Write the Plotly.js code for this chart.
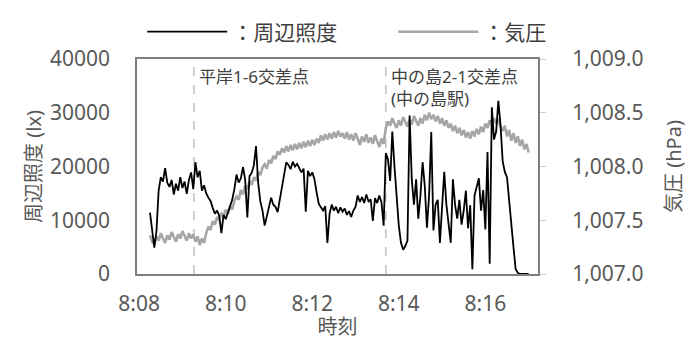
<!DOCTYPE html>
<html><head><meta charset="utf-8">
<script src="https://cdn.plot.ly/plotly-3.0.1.min.js"></script>
<style>html,body{margin:0;padding:0;background:#fff}</style>
</head><body><div id="chart" style="width:690px;height:340px"></div>
<script>
// time axis: seconds after 8:08:00, sampled every 3 s starting at 8:08:15
const startSec = 15;
const stepSec = 3;
const seriesNames = ["：周辺照度", "：気圧"];
const illuminance = [
  11400, 7600, 4900, 8000, 15500, 18000, 17200, 19700, 17000, 16200,
  17500, 14800, 16800, 15500, 18000, 16000, 17200, 14900, 17500, 18900,
  15800, 20800, 18000, 19200, 15500, 16500, 15000, 14200, 13600, 12300,
  11200, 11800, 10800, 7600, 11000, 10200, 11500, 12400, 13800, 15800,
  18500, 17000, 17800, 19900, 17500, 10500, 18200, 18800, 20200, 23800,
  17000, 13500, 11800, 9000, 10700, 13000, 14200, 12900, 12500, 11500,
  13800, 16200, 19200, 20800, 20300, 19500, 20900, 20000, 20500, 19800,
  18900, 19600, 11600, 19200, 18200, 18900, 17700, 15200, 13100, 12400,
  11800, 12600, 5800, 11200, 12900, 11800, 12500, 11300, 12400, 11600,
  12200, 11000, 11700, 10600, 11800, 12500, 14600, 13400, 14300, 13200,
  14800, 13500, 13900, 9900, 14100, 13200, 14600, 13300, 9000, 22500,
  21300, 17300, 26500, 20000, 13500, 9000, 5800, 4500, 5200, 6200,
  29500, 17500, 12900, 17600, 10300, 14600, 20800, 16400, 8600, 14600,
  26400, 8100, 12900, 13800, 5800, 12800, 19000, 12900, 9700, 5800,
  17600, 12900, 10300, 13800, 9200, 11800, 15500, 8500, 12800, 900,
  14600, 16200, 17800, 11800, 15600, 8300, 22700, 1900, 31000, 25000,
  26500, 32200, 27800, 21000, 19000, 18000, 13200, 9500, 5000, 900,
  200, 0, 0, 0, 0, 0
];
const pressure = [
  1007.36, 1007.30, 1007.28, 1007.35, 1007.31, 1007.38, 1007.33, 1007.29, 1007.36, 1007.32,
  1007.39, 1007.34, 1007.30, 1007.37, 1007.33, 1007.40, 1007.35, 1007.31, 1007.38, 1007.33,
  1007.37, 1007.30, 1007.35, 1007.27, 1007.33, 1007.29, 1007.38, 1007.44, 1007.41, 1007.49,
  1007.46, 1007.53, 1007.50, 1007.57, 1007.53, 1007.60, 1007.56, 1007.63, 1007.60, 1007.68,
  1007.72, 1007.69, 1007.78, 1007.74, 1007.82, 1007.79, 1007.86, 1007.83, 1007.90, 1007.87,
  1007.95, 1007.92, 1007.99, 1008.02, 1007.98, 1008.06, 1008.03, 1008.10, 1008.07, 1008.14,
  1008.11, 1008.17, 1008.13, 1008.19, 1008.14, 1008.20, 1008.15, 1008.21, 1008.16, 1008.22,
  1008.17, 1008.23, 1008.18, 1008.24, 1008.19, 1008.25, 1008.20, 1008.26, 1008.22, 1008.29,
  1008.24, 1008.30, 1008.25, 1008.31, 1008.26, 1008.32, 1008.27, 1008.33, 1008.28, 1008.31,
  1008.26, 1008.32, 1008.25, 1008.30, 1008.24, 1008.31, 1008.26, 1008.20, 1008.28, 1008.23,
  1008.30, 1008.22, 1008.27, 1008.21, 1008.29, 1008.23, 1008.18, 1008.26, 1008.21, 1008.36,
  1008.42, 1008.38, 1008.45, 1008.40, 1008.36, 1008.43, 1008.38, 1008.46, 1008.41, 1008.37,
  1008.44, 1008.39, 1008.47, 1008.42, 1008.38, 1008.45, 1008.40, 1008.48, 1008.43, 1008.50,
  1008.44, 1008.48, 1008.42, 1008.47, 1008.40, 1008.45, 1008.38, 1008.43, 1008.36, 1008.40,
  1008.33, 1008.38, 1008.31, 1008.36, 1008.29, 1008.34, 1008.27, 1008.32, 1008.26, 1008.33,
  1008.28, 1008.35, 1008.30, 1008.37, 1008.32, 1008.40, 1008.36, 1008.43, 1008.39, 1008.45,
  1008.40, 1008.44, 1008.37, 1008.33, 1008.38, 1008.28, 1008.34, 1008.24, 1008.31, 1008.22,
  1008.28, 1008.19, 1008.25, 1008.16, 1008.21, 1008.13
];
const tickSeconds = [0, 120, 240, 360, 480];
const tickLabels = ["8:08", "8:10", "8:12", "8:14", "8:16"];
const eventSeconds = [76, 342];
const eventLabels = ["平岸1-6交差点", "中の島2-1交差点<br>(中の島駅)"];

const times = illuminance.map((_, i) => startSec + i * stepSec);
const FONT = "'Noto Sans', 'Noto Sans CJK JP', sans-serif";
const TXT = "#595959";

const traces = [
  { x: times, y: pressure, name: seriesNames[1], type: "scatter", mode: "lines",
    yaxis: "y", line: { color: "#a6a6a6", width: 2.6 } },
  { x: times, y: illuminance, name: seriesNames[0], type: "scatter", mode: "lines",
    yaxis: "y2", line: { color: "#000000", width: 1.8 } }
];

const shapes = eventSeconds.map(s => ({
  type: "line", xref: "x", yref: "paper", x0: s, x1: s, y0: 0, y1: 1,
  line: { color: "#bfbfbf", width: 1.5, dash: "dash" }, layer: "below"
}));
const annotations = eventSeconds.map((s, i) => ({
  x: s, xref: "x", y: 1, yref: "paper", xanchor: "left", yanchor: "top",
  xshift: 3, yshift: -4, align: "left", showarrow: false,
  text: eventLabels[i], font: { family: FONT, size: 17, color: "#404040" }
}));

const layout = {
  width: 690, height: 340,
  margin: { l: 137, r: 152, t: 46, b: 66 },
  paper_bgcolor: "#fff", plot_bgcolor: "#fff",
  showlegend: true,
  legend: { orientation: "h", traceorder: "reversed",
    xref: "paper", yref: "paper",
    x: -0.002, xanchor: "left", y: 1.03, yanchor: "bottom",
    entrywidth: 150, entrywidthmode: "pixels", itemwidth: 80,
    indentation: 6, borderwidth: 0,
    font: { family: FONT, size: 21, color: "#404040" }, bgcolor: "rgba(0,0,0,0)" },
  font: { family: FONT, size: 21, color: TXT },
  xaxis: {
    range: [-3, 553], tickmode: "array", tickvals: tickSeconds, ticktext: tickLabels,
    showgrid: false, zeroline: false, showline: true, mirror: true,
    linecolor: "#7f7f7f", linewidth: 2, ticks: "", ticklabelstandoff: 10,
    tickfont: { family: FONT, size: 21, color: TXT },
    title: { text: "時刻", font: { family: FONT, size: 20, color: TXT }, standoff: 6 }
  },
  yaxis: {
    side: "right", range: [1007, 1009], dtick: 0.5, tick0: 1007, tickformat: ",.1f",
    showgrid: false, zeroline: false, showline: true, mirror: true,
    linecolor: "#7f7f7f", linewidth: 2,
    ticks: "outside", ticklen: 6, tickcolor: "#d0d0d0", ticklabelstandoff: 22,
    tickfont: { family: FONT, size: 21, color: TXT },
    title: { text: "気圧 (hPa)", font: { family: FONT, size: 20, color: TXT }, standoff: 24 }
  },
  yaxis2: {
    overlaying: "y", side: "left", range: [0, 40000], dtick: 10000, tickformat: "d",
    showgrid: false, zeroline: false, showline: false, ticks: "", ticklabelstandoff: 26,
    tickfont: { family: FONT, size: 21, color: TXT },
    title: { text: "周辺照度 (lx)", font: { family: FONT, size: 20, color: TXT }, standoff: 2 }
  },
  shapes: shapes,
  annotations: annotations,
  hovermode: false
};

Plotly.newPlot("chart", traces, layout, { displayModeBar: false, staticPlot: true });
</script>
</body></html>
